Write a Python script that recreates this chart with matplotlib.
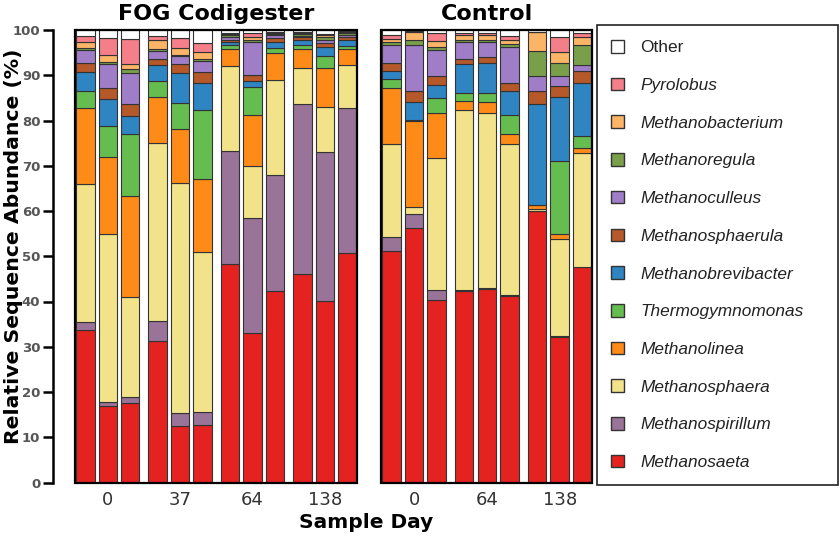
import numpy as np
import matplotlib
matplotlib.use("Agg")
import matplotlib.pyplot as plt
from matplotlib.patches import Patch, Rectangle

# genera, bottom of the stack first
genera = ["Methanosaeta", "Methanospirillum", "Methanosphaera", "Methanolinea",
          "Thermogymnomonas", "Methanobrevibacter", "Methanosphaerula",
          "Methanoculleus", "Methanoregula", "Methanobacterium", "Pyrolobus", "Other"]

colors = ["#e42320", "#9a7398", "#f2e38a", "#fe8b17", "#66bd4f", "#2f85c2",
          "#b5582a", "#9f7dc7", "#7a9f4b", "#fcb466", "#f47f88", "#ffffff"]

fog_days = ["0", "37", "64", "138"]
control_days = ["0", "64", "138"]

# relative abundance (%), 3 replicates per sample day
fog = {
    "Methanosaeta":       [33.6, 16.8, 17.6, 31.3, 12.5, 12.8, 48.3, 33.0, 42.3, 46.1, 40.2, 50.7],
    "Methanospirillum":   [1.9, 1.0, 1.4, 4.3, 2.8, 2.7, 24.9, 25.5, 25.6, 37.5, 32.9, 32.0],
    "Methanosphaera":     [30.4, 37.2, 22.0, 39.5, 50.9, 35.4, 18.9, 11.4, 21.0, 7.9, 9.9, 9.6],
    "Methanolinea":       [16.9, 17.0, 22.4, 10.0, 12.0, 16.1, 3.8, 11.3, 6.1, 4.3, 8.7, 3.6],
    "Thermogymnomonas":   [3.8, 6.8, 13.7, 3.7, 5.6, 15.4, 0.8, 6.1, 1.1, 0.9, 2.6, 0.6],
    "Methanobrevibacter": [4.2, 5.9, 3.9, 3.4, 6.6, 5.8, 0.7, 1.4, 1.3, 1.1, 2.0, 1.4],
    "Methanosphaerula":   [2.0, 2.4, 2.6, 1.5, 2.0, 2.6, 0.5, 1.3, 0.8, 0.6, 0.8, 0.6],
    "Methanoculleus":     [2.7, 5.4, 6.8, 1.7, 1.8, 2.3, 0.5, 7.4, 0.8, 0.3, 0.7, 0.3],
    "Methanoregula":      [0.6, 0.5, 0.9, 0.4, 0.3, 0.4, 0.4, 0.5, 0.2, 0.4, 0.6, 0.5],
    "Methanobacterium":   [1.2, 1.5, 1.2, 2.0, 1.6, 1.6, 0.3, 0.6, 0.2, 0.3, 0.5, 0.3],
    "Pyrolobus":          [1.4, 3.8, 5.5, 0.9, 2.1, 2.1, 0.2, 0.8, 0.1, 0.1, 0.3, 0.1],
    "Other":              [1.3, 1.7, 2.0, 1.3, 1.8, 2.8, 0.7, 0.7, 0.5, 0.5, 0.8, 0.3],
}

control = {
    "Methanosaeta":       [51.2, 56.3, 40.4, 42.4, 42.8, 41.3, 60.0, 32.2, 47.6],
    "Methanospirillum":   [3.1, 3.0, 2.2, 0.2, 0.1, 0.1, 0.1, 0.1, 0.1],
    "Methanosphaera":     [20.4, 1.5, 29.2, 39.7, 38.8, 33.3, 0.4, 21.6, 25.2],
    "Methanolinea":       [12.4, 19.1, 9.8, 2.0, 2.3, 2.4, 0.8, 1.1, 1.1],
    "Thermogymnomonas":   [2.0, 0.2, 3.3, 1.7, 2.1, 4.2, 0.1, 16.1, 2.5],
    "Methanobrevibacter": [1.8, 4.0, 2.9, 6.5, 6.7, 5.2, 22.2, 14.0, 11.7],
    "Methanosphaerula":   [1.9, 2.5, 2.0, 1.2, 1.3, 1.7, 3.0, 2.5, 2.8],
    "Methanoculleus":     [3.9, 10.1, 5.8, 3.6, 3.2, 8.0, 3.2, 2.2, 1.3],
    "Methanoregula":      [0.7, 1.1, 0.7, 0.5, 0.5, 0.6, 5.6, 3.0, 4.4],
    "Methanobacterium":   [0.6, 1.7, 1.3, 1.1, 1.1, 1.0, 4.1, 2.4, 1.7],
    "Pyrolobus":          [1.0, 0.2, 1.7, 0.4, 0.4, 0.9, 0.1, 3.2, 0.9],
    "Other":              [1.0, 0.3, 0.7, 0.7, 0.7, 1.3, 0.4, 1.6, 0.7],
}

GROUP_STEP = 3.22
BAR_W = 0.82
EDGE = "#333333"


def stacked(ax, data, days, title):
    n_groups = len(days)
    x = np.array([g * GROUP_STEP + r for g in range(n_groups) for r in range(3)])
    bottom = np.zeros(len(x))
    for genus, c in zip(genera, colors):
        vals = np.array(data[genus])
        ax.bar(x, vals, BAR_W, bottom=bottom, color=c, edgecolor=EDGE, linewidth=0.8)
        bottom += vals
    ax.set_xlim(-0.46, (n_groups - 1) * GROUP_STEP + 2 + 0.43)
    ax.set_ylim(0, 100)
    ax.set_xticks([g * GROUP_STEP + 1 for g in range(n_groups)])
    ax.set_xticklabels(days, fontsize=13, color="#333333")
    ax.tick_params(axis="x", length=0, pad=6)
    for s in ax.spines.values():
        s.set_visible(False)
    ax.add_patch(Rectangle((0, 0), 1, 1, transform=ax.transAxes, fill=False,
                           edgecolor="black", linewidth=1.6, clip_on=False, zorder=5))
    ax.set_title(title, fontsize=16, fontweight="bold", pad=7)


fig = plt.figure(figsize=(8.4, 5.36), dpi=100)
H = 536.0
ax1 = fig.add_axes([75 / 840, (H - 482.5) / H, 282 / 840, 452.5 / H])
ax2 = fig.add_axes([381 / 840, (H - 482.5) / H, 211 / 840, 452.5 / H])

stacked(ax1, fog, fog_days, "FOG Codigester")
stacked(ax2, control, control_days, "Control")

ax1.spines["left"].set_visible(True)
ax1.spines["left"].set_position(("outward", 16))
ax1.spines["left"].set_linewidth(1.8)
ax1.set_yticks(np.arange(0, 101, 10))
ax1.tick_params(axis="y", length=7, width=1.8, pad=2, labelsize=9.5,
                labelcolor="#555555")
for lab in ax1.get_yticklabels():
    lab.set_fontweight("bold")
ax2.set_yticks([])

fig.text(14 / 840, 1 - 246 / H, "Relative Sequence Abundance (%)", rotation=90,
         ha="center", va="center", fontsize=14.7, fontweight="bold")
fig.text(366 / 840, 1 - 522 / H, "Sample Day", ha="center", va="center",
         fontsize=14.5, fontweight="bold")

# legend, top entry = top of stack
handles = [Patch(facecolor=c, edgecolor=EDGE, linewidth=1.0)
           for c in colors[::-1]]
labels = genera[::-1]
leg = fig.legend(handles, labels, loc="upper left",
                 bbox_to_anchor=(611 / 840, 1 - 40 / H), frameon=False,
                 prop={"family": "Liberation Sans", "size": 12.4, "style": "italic"},
                 handlelength=0.75, handleheight=0.75, handletextpad=0.95,
                 labelspacing=1.30, borderaxespad=0, borderpad=0)
for t in leg.get_texts():
    t.set_color("#222222")
    if t.get_text() == "Other":
        t.set_fontstyle("normal")
fig.patches.append(Rectangle((597 / 840, 1 - 485 / H), 241 / 840, 460 / H,
                             transform=fig.transFigure, fill=False,
                             edgecolor="#222222", linewidth=1.2))

fig.savefig("out.png", dpi=100)
